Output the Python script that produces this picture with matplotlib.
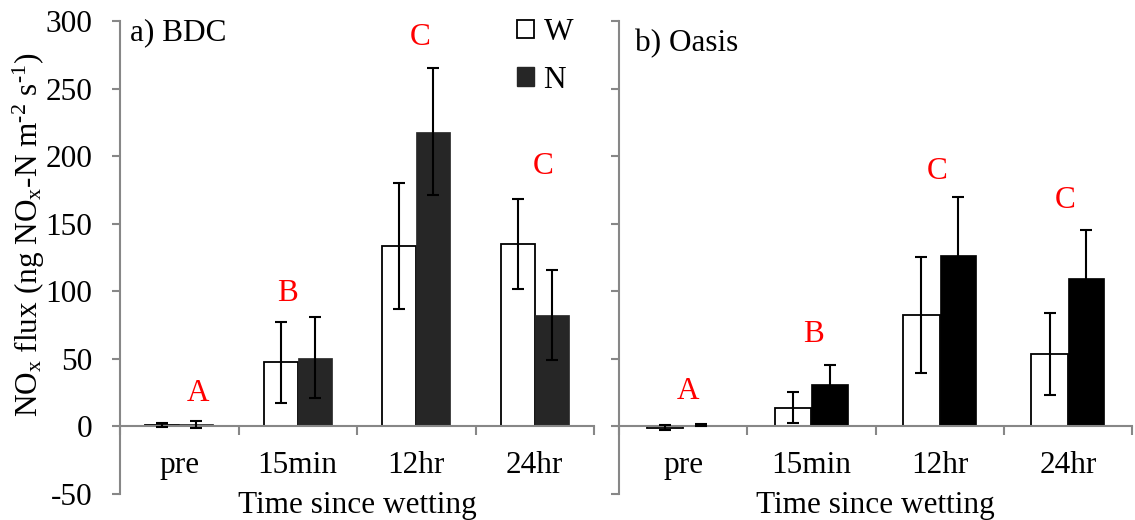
import matplotlib
matplotlib.use("Agg")
import matplotlib.pyplot as plt
import matplotlib.patches as mpatches
import numpy as np

plt.rcParams["font.family"] = ["Liberation Serif", "DejaVu Serif"]
plt.rcParams["mathtext.fontset"] = "custom"
plt.rcParams["mathtext.rm"] = "Liberation Serif"
plt.rcParams["mathtext.it"] = "Liberation Serif:italic"
plt.rcParams["axes.unicode_minus"] = False

categories = ["pre", "15min", "12hr", "24hr"]

# a) BDC
bdc_w = [1.0, 47.5, 133.5, 135.0]
bdc_w_err = [1.5, 30.0, 46.5, 33.5]
bdc_n = [1.5, 51.0, 218.0, 82.5]
bdc_n_err = [2.5, 30.0, 47.0, 33.5]
bdc_letters = ["A", "B", "C", "C"]
bdc_letter_x = [0.16, 0.915, 2.03, 3.07]
bdc_letter_y = [24, 98, 288, 192]

# b) Oasis
oasis_w = [-1.0, 14.0, 82.5, 53.5]
oasis_w_err = [2.0, 11.5, 43.0, 30.5]
oasis_n = [1.0, 31.5, 127.0, 110.0]
oasis_n_err = [1.0, 14.0, 42.5, 35.5]
oasis_letters = ["A", "B", "C", "C"]
oasis_letter_x = [0.04, 1.02, 1.98, 2.98]
oasis_letter_y = [26, 68, 189, 167]

FS = 22.5
AXIS_GREY = "#878787"
BAR_W = 0.285


def draw_panel(ax, w, w_err, n, n_err, n_color, letters, lx, ly, title, title_xy):
    x = np.arange(len(categories))
    xw = x - BAR_W / 2
    xn = x + BAR_W / 2
    ax.bar(xw, w, BAR_W, color="white", edgecolor="black", linewidth=1.3, zorder=2)
    ax.bar(xn, n, BAR_W, color=n_color, edgecolor=n_color, linewidth=0.5, zorder=2)
    err_kw = dict(fmt="none", ecolor="black", elinewidth=1.5, capsize=4.3,
                  capthick=1.5, zorder=3)
    ax.errorbar(xw, w, yerr=w_err, **err_kw)
    ax.errorbar(xn, n, yerr=n_err, **err_kw)

    for s, xx, yy in zip(letters, lx, ly):
        ax.text(xx, yy, s, color="red", fontsize=FS, ha="center", va="center")

    ax.text(title_xy[0], title_xy[1], title, fontsize=FS, ha="left",
            va="baseline", transform=ax.get_yaxis_transform())

    ax.set_xlim(-0.5, 3.5)
    ax.set_ylim(-50, 300)
    ax.set_yticks(np.arange(-50, 301, 50))
    ax.set_xticks(np.arange(-0.5, 3.6, 1.0))
    ax.set_xticklabels([])
    ax.set_xticks(x, minor=True)
    ax.set_xticklabels(categories, minor=True)
    ax.tick_params(axis="x", which="major", direction="out", length=6.5,
                   width=1.5, color=AXIS_GREY)
    ax.tick_params(axis="x", which="minor", length=0, pad=18, labelsize=FS)
    ax.tick_params(axis="y", direction="out", length=6, width=1.5,
                   color=AXIS_GREY, labelsize=FS, pad=14)

    for side in ("top", "right"):
        ax.spines[side].set_visible(False)
    ax.spines["bottom"].set_position(("data", 0))
    for side in ("left", "bottom"):
        ax.spines[side].set_color(AXIS_GREY)
        ax.spines[side].set_linewidth(1.5)

    ax.text(0.5, -64, "Time since wetting", fontsize=FS, ha="center",
            va="baseline", transform=ax.get_yaxis_transform())


fig = plt.figure(figsize=(11.35, 5.2), dpi=100)
ax1 = fig.add_axes([120 / 1135, 26 / 520, 474 / 1135, 473 / 520])
ax2 = fig.add_axes([619 / 1135, 26 / 520, 513 / 1135, 473 / 520])

draw_panel(ax1, bdc_w, bdc_w_err, bdc_n, bdc_n_err, "#262626",
           bdc_letters, bdc_letter_x, bdc_letter_y, "a) BDC", (0.021, 286))
draw_panel(ax2, oasis_w, oasis_w_err, oasis_n, oasis_n_err, "black",
           oasis_letters, oasis_letter_x, oasis_letter_y, "b) Oasis", (0.031, 277.5))
ax2.set_yticklabels([])

handles = [
    mpatches.Patch(facecolor="white", edgecolor="black", linewidth=1.3, label="W"),
    mpatches.Patch(facecolor="#262626", edgecolor="#262626", label="N"),
]
fig.legend(handles=handles, loc="upper left",
           bbox_to_anchor=(517 / 1135, 1 - 18 / 520), frameon=False,
           fontsize=FS, borderpad=0, borderaxespad=0, handlelength=0.55,
           handleheight=0.55, handletextpad=0.3, labelspacing=0.6)

fig.text(29 / 1135, 1 - 235 / 520,
         r"NO$_{\rm x}$ flux (ng NO$_{\rm x}$-N m$^{\text{-2}}$ s$^{\text{-1}}$)",
         fontsize=FS, rotation=90, ha="center", va="center")

fig.savefig("out.png", dpi=100)
